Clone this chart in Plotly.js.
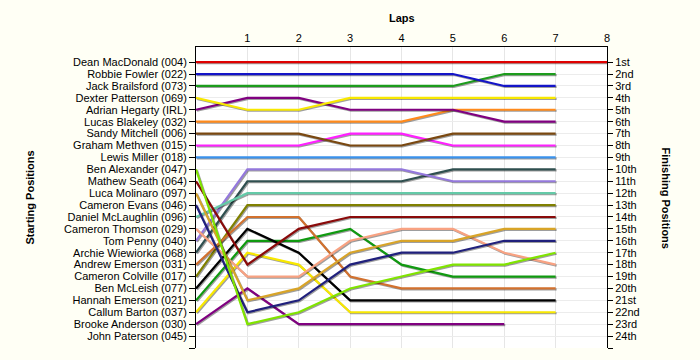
<!DOCTYPE html>
<html>
<head>
<meta charset="utf-8">
<script src="https://cdn.plot.ly/plotly-3.0.1.min.js"></script>
<style>
  html, body { margin: 0; padding: 0; background: #fffff5; }
  #chart { width: 700px; height: 360px; }
  .scatterlayer .js-line { filter: drop-shadow(1px 1px 0px rgba(0,0,0,0.38)); }
</style>
</head>
<body>
<div id="chart"></div>
<script>
// Laps (x axis); lap 0 = starting grid
const laps = [0, 1, 2, 3, 4, 5, 6, 7, 8];
const lapTicks = [1, 2, 3, 4, 5, 6, 7, 8];

// Drivers in starting order (left axis tick labels)
const drivers = [
  "Dean MacDonald (004)", "Robbie Fowler (022)", "Jack Brailsford (073)",
  "Dexter Patterson (069)", "Adrian Hegarty (IRL)", "Lucas Blakeley (032)",
  "Sandy Mitchell (006)", "Graham Methven (015)", "Lewis Miller (018)",
  "Ben Alexander (047)", "Mathew Seath (064)", "Luca Molinaro (097)",
  "Cameron Evans (046)", "Daniel McLaughlin (096)", "Cameron Thomson (029)",
  "Tom Penny (040)", "Archie Wiewiorka (068)", "Andrew Emerson (031)",
  "Cameron Colville (017)", "Ben McLeish (077)", "Hannah Emerson (021)",
  "Callum Barton (037)", "Brooke Anderson (030)", "John Paterson (045)"
];

// Finishing positions (right axis tick labels)
const finishLabels = [
  "1st","2nd","3rd","4th","5th","6th","7th","8th","9th","10th","11th","12th",
  "13th","14th","15th","16th","17th","18th","19th","20th","21st","22nd","23rd","24th"
];

// Position of each driver per lap (lap 0 .. last lap completed)
const posDeanMacDonald    = [1, 1, 1, 1, 1, 1, 1, 1, 1];
const posRobbieFowler     = [2, 2, 2, 2, 2, 2, 3, 3];
const posJackBrailsford   = [3, 3, 3, 3, 3, 3, 2, 2];
const posDexterPatterson  = [4, 5, 5, 4, 4, 4, 4, 4];
const posAdrianHegarty    = [5, 4, 4, 5, 5, 5, 6, 6];
const posLucasBlakeley    = [6, 6, 6, 6, 6, 5, 5, 5];
const posSandyMitchell    = [7, 7, 7, 8, 8, 7, 7, 7];
const posGrahamMethven    = [8, 8, 8, 7, 7, 8, 8, 8];
const posLewisMiller      = [9, 9, 9, 9, 9, 9, 9, 9];
const posBenAlexander     = [10, 23, 22, 20, 19, 18, 18, 17];
const posMathewSeath      = [11, 18, 15, 14, 14, 14, 14, 14];
const posLucaMolinaro     = [12, 21, 20, 17, 16, 16, 15, 15];
const posCameronEvans     = [13, 22, 21, 18, 17, 17, 16, 16];
const posDanielMcLaughlin = [14, 12, 12, 12, 12, 12, 12, 12];
const posCameronThomson   = [15, 19, 19, 16, 15, 15, 17, 18];
const posTomPenny         = [16, 10, 10, 10, 10, 11, 11, 11];
const posArchieWiewiorka  = [17, 11, 11, 11, 11, 10, 10, 10];
const posAndrewEmerson    = [18, 14, 14, 19, 20, 20, 20, 20];
const posCameronColville  = [19, 13, 13, 13, 13, 13, 13, 13];
const posBenMcLeish       = [20, 15, 17, 21, 21, 21, 21, 21];
const posHannahEmerson    = [21, 16, 16, 15, 18, 19, 19, 19];
const posCallumBarton     = [22, 17, 18, 22, 22, 22, 22, 22];
const posBrookeAnderson   = [23, 20, 23, 23, 23, 23, 23];
const posJohnPaterson     = [];

const series = [
  posDeanMacDonald, posRobbieFowler, posJackBrailsford, posDexterPatterson,
  posAdrianHegarty, posLucasBlakeley, posSandyMitchell, posGrahamMethven,
  posLewisMiller, posBenAlexander, posMathewSeath, posLucaMolinaro,
  posCameronEvans, posDanielMcLaughlin, posCameronThomson, posTomPenny,
  posArchieWiewiorka, posAndrewEmerson, posCameronColville, posBenMcLeish,
  posHannahEmerson, posCallumBarton, posBrookeAnderson, posJohnPaterson
];

const colors = [
  "#e00000", "#1414c8", "#1c9c1c", "#f8e800", "#800080", "#ff8a1c",
  "#7a4810", "#ff20ff", "#3a92ec", "#80e400", "#8a0a0a", "#d8a428",
  "#20207c", "#64caa8", "#f8a282", "#9478dc", "#2f4f4f", "#d2712e",
  "#808000", "#000000", "#109a10", "#f8e800", "#800080", "#888888"
];

const positions = drivers.map((d, i) => i + 1);

const traces = [];
// draw from the back so the leaders sit on top
for (let i = drivers.length - 1; i >= 0; i--) {
  const ys = series[i];
  traces.push({
    type: "scatter",
    mode: "lines",
    name: drivers[i],
    x: laps.slice(0, ys.length),
    y: ys,
    line: { color: colors[i], width: 2.2 },
    hoverinfo: "name+x+y",
    showlegend: false
  });
}
// anchor trace for the right-hand (finishing positions) axis
traces.push({ type: "scatter", mode: "lines", x: [], y: [], yaxis: "y2", showlegend: false, hoverinfo: "skip" });

const tickFont = { family: "Liberation Sans, Arial, sans-serif", size: 11, color: "#000000" };
const titleFont = { family: "Liberation Sans, Arial, sans-serif", size: 11, color: "#000000", weight: "bold" };
const yRange = [25, -0.27];

const layout = {
  width: 700, height: 360,
  margin: { l: 196, r: 93, t: 47, b: 12, pad: 0 },
  paper_bgcolor: "#fffff5",
  plot_bgcolor: "#ffffff",
  showlegend: false,
  xaxis: {
    side: "top", range: [0, 8], tickvals: lapTicks, ticktext: lapTicks.map(String),
    ticks: "", showline: true, linecolor: "#000000", linewidth: 1,
    showgrid: true, gridcolor: "#e6e6e6", zeroline: false,
    tickfont: tickFont, fixedrange: true
  },
  yaxis: {
    range: yRange, tickvals: positions.concat([25]), ticktext: drivers.concat([""]),
    ticks: "outside", ticklen: 6, tickcolor: "#000000", tickwidth: 1,
    showline: true, linecolor: "#000000", linewidth: 1,
    showgrid: true, gridcolor: "#ececec", zeroline: false,
    tickfont: tickFont, fixedrange: true
  },
  yaxis2: {
    overlaying: "y", side: "right", range: yRange,
    tickvals: positions.concat([25]), ticktext: finishLabels.concat([""]),
    ticks: "outside", ticklen: 5, tickcolor: "#000000", tickwidth: 1,
    showline: true, linecolor: "#000000", linewidth: 1,
    showgrid: false, zeroline: false, tickfont: tickFont, fixedrange: true
  },
  annotations: [
    { text: "Laps", xref: "paper", yref: "paper", x: 0.5, y: 1, yshift: 29,
      showarrow: false, font: titleFont, xanchor: "center", yanchor: "middle" },
    { text: "Starting Positions", xref: "paper", yref: "paper", x: 0, xshift: -167, y: 0.5,
      showarrow: false, font: titleFont, textangle: -90, xanchor: "center", yanchor: "middle" },
    { text: "Finishing Positions", xref: "paper", yref: "paper", x: 1, xshift: 59, y: 0.5,
      showarrow: false, font: titleFont, textangle: 90, xanchor: "center", yanchor: "middle" }
  ]
};

Plotly.newPlot("chart", traces, layout, { displayModeBar: false, staticPlot: true });
</script>
</body>
</html>
